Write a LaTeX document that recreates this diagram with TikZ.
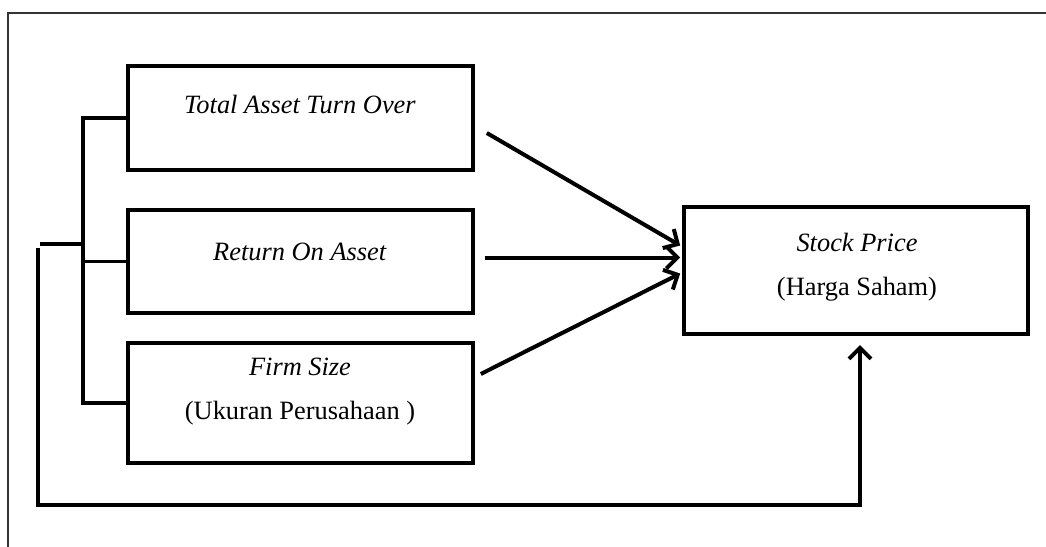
\documentclass[tikz,border=0pt]{standalone}
\usepackage{fontspec}
\setmainfont{Liberation Serif}
\usetikzlibrary{arrows.meta,calc}
\begin{document}
\begin{tikzpicture}[x=0.5pt,y=-0.5pt,
  box/.style={draw, line width=1.8pt, inner sep=0pt},
  lbl/.style={font=\fontsize{13.2}{22}\selectfont, align=center, anchor=base, inner sep=0pt},
  link/.style={line width=1.8pt},
  arr/.style={line width=2pt, -{Straight Barb[length=5.5pt,width=11pt]}}]
\useasboundingbox (0,0) rectangle (1046,547);
% page frame
\draw[line width=0.6pt, black!80] (1046,13) -- (8,13) -- (8,547);

% variable boxes
\node[box, minimum width=172.5pt, minimum height=52pt] (tato) at (300.5,118) {};
\node[box, minimum width=172.5pt, minimum height=51.5pt] (roa) at (300.5,261.5) {};
\node[box, minimum width=172.5pt, minimum height=60pt] (fs) at (300.5,403) {};
\node[box, minimum width=172pt, minimum height=63.5pt] (sp) at (856,270.5) {};

% labels (base anchor sits on the last line)
\node[lbl] (ttato) at (300,113) {\textit{Total Asset Turn Over}};
\node[lbl] (troa) at (300,260) {\textit{Return On Asset}};
\node[lbl] (tfs) at (300,419) {\textit{Firm Size}\\(Ukuran Perusahaan )};
\node[lbl] (tsp) at (857,295) {\textit{Stock Price}\\(Harga Saham)};

% bracket joining the three independent variables
\coordinate (bt) at (83,118);
\coordinate (bb) at (83,403);
\coordinate (bj) at (83,244);
\coordinate (bl) at (40,244);
\draw[link] (tato.west) -- (bt) -- (bb) -- (fs.west);
\draw[link] (roa.west) -- (roa.west -| bt);
\draw[link] (bl) -- (bj);

% simultaneous path to the dependent variable
\coordinate (ls) at (38,248);
\coordinate (lc) at (860,505);
\coordinate (le) at (860,345);
\draw[arr] (ls) |- (lc) -- (le);

% partial effects
\draw[arr] ($(tato.east)+(12,15)$) -- ($(sp.west)+(-2,-25)$);
\draw[arr] ($(roa.east)+(10,-4)$) -- ($(sp.west)+(-2,-13)$);
\draw[arr] ($(fs.east)+(6,-29)$) -- ($(sp.west)+(-2,3)$);
\end{tikzpicture}
\end{document}
